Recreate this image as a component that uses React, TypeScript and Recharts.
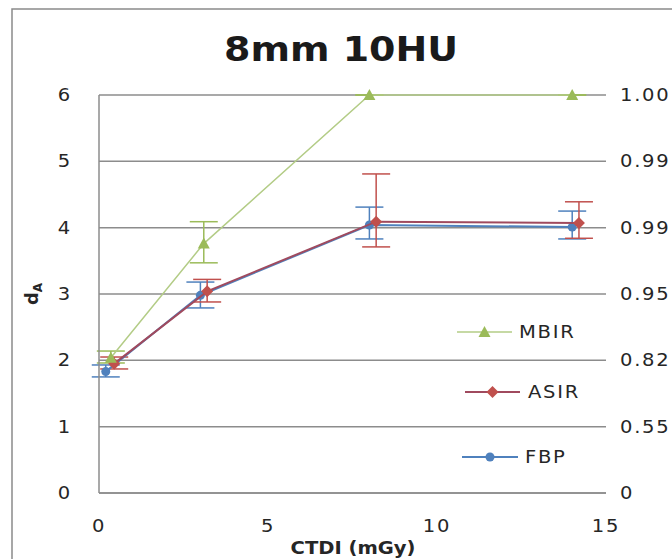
import React from 'react';
import {
  ComposedChart,
  Scatter,
  ErrorBar,
  XAxis,
  YAxis,
  CartesianGrid,
} from 'recharts';

// CTDI dose (mGy), d_A value and error bar extents for each reconstruction
const fbpX = [0.2, 3.0, 8.0, 14.0];
const fbpY = [1.83, 2.98, 4.04, 4.01];
const fbpErrLow = [0.08, 0.19, 0.21, 0.18];
const fbpErrHigh = [0.1, 0.2, 0.27, 0.24];

const asirX = [0.45, 3.2, 8.2, 14.2];
const asirY = [1.95, 3.04, 4.09, 4.07];
const asirErrLow = [0.08, 0.16, 0.38, 0.23];
const asirErrHigh = [0.1, 0.18, 0.72, 0.32];

const mbirX = [0.35, 3.1, 8.0, 14.0];
const mbirY = [2.04, 3.76, 6.0, 6.0];
const mbirErrLow = [0.08, 0.29, 0, 0];
const mbirErrHigh = [0.1, 0.33, 0, 0];

const xTicks = [0, 5, 10, 15];
const yTicks = [0, 1, 2, 3, 4, 5, 6];
const rightTickLabels = ['0', '0.55', '0.82', '0.95', '0.99', '0.99', '1.00'];

const title = '8mm 10HU';
const xLabel = 'CTDI (mGy)';

const FONT = '"DejaVu Sans", sans-serif';
const STRETCH = 1.15;
const GRID = '#8C8C8C';

type Kind = 'circle' | 'diamond' | 'triangle';

const build = (xs: number[], ys: number[], lo: number[], hi: number[]) =>
  xs.map((x, i) => ({ x, y: ys[i], err: [lo[i], hi[i]] }));

// both y axes share the 0..6 domain, so MBIR can sit on the right one
const series = [
  { name: 'FBP', axis: 'left', color: '#4F81BD', line: '#4F81BD', kind: 'circle' as Kind, data: build(fbpX, fbpY, fbpErrLow, fbpErrHigh) },
  { name: 'ASIR', axis: 'left', color: '#C0504D', line: '#A04A5E', kind: 'diamond' as Kind, data: build(asirX, asirY, asirErrLow, asirErrHigh) },
  { name: 'MBIR', axis: 'right', color: '#9BBB59', line: '#B3CC86', kind: 'triangle' as Kind, data: build(mbirX, mbirY, mbirErrLow, mbirErrHigh) },
];

function Marker({ kind, cx, cy, color }: { kind: Kind; cx: number; cy: number; color: string }) {
  if (kind === 'circle') return <circle cx={cx} cy={cy} r={4.5} fill={color} />;
  if (kind === 'diamond')
    return <polygon points={`${cx},${cy - 6} ${cx + 6},${cy} ${cx},${cy + 6} ${cx - 6},${cy}`} fill={color} />;
  return <polygon points={`${cx},${cy - 6} ${cx + 6},${cy + 5} ${cx - 6},${cy + 5}`} fill={color} />;
}

// tick text, slightly widened like the original typeface
function makeTick(anchor: 'start' | 'middle' | 'end', dy: number, fmt?: (v: number) => string) {
  return (props: any) => {
    const { x, y, payload } = props;
    const label = fmt ? fmt(payload.value) : String(payload.value);
    return (
      <g transform={`translate(${x},${y})`}>
        <text
          transform={`scale(${STRETCH},1)`}
          textAnchor={anchor}
          dy={dy}
          fontFamily={FONT}
          fontSize={17}
          letterSpacing={1.5}
          fill="#262626"
        >
          {label}
        </text>
      </g>
    );
  };
}

const legendRows = [
  { name: 'MBIR', y: 332, x1: 457, x2: 512, tx: 519 },
  { name: 'ASIR', y: 392, x1: 465, x2: 520, tx: 528 },
  { name: 'FBP', y: 457, x1: 462, x2: 518, tx: 525 },
];

export default function App() {
  return (
    <div style={{ position: 'absolute', left: 0, top: 0, width: 672, height: 559, background: '#fff' }}>
      <ComposedChart width={672} height={559} margin={{ top: 95, right: 0, bottom: 0, left: 0 }}>
        <CartesianGrid vertical={false} stroke={GRID} strokeWidth={1.5} yAxisId="left" />
        <XAxis
          dataKey="x"
          type="number"
          domain={[0, 15]}
          ticks={xTicks}
          height={66}
          tickLine={false}
          tickSize={0}
          tickMargin={0}
          axisLine={{ stroke: GRID, strokeWidth: 1.5 }}
          tick={makeTick('middle', 39)}
          allowDataOverflow
        />
        <YAxis
          yAxisId="left"
          dataKey="y"
          type="number"
          domain={[0, 6]}
          ticks={yTicks}
          width={99}
          tickLine={false}
          tickSize={0}
          tickMargin={27}
          axisLine={{ stroke: GRID, strokeWidth: 1.5 }}
          tick={makeTick('end', 6)}
        />
        <YAxis
          yAxisId="right"
          dataKey="y"
          orientation="right"
          type="number"
          domain={[0, 6]}
          ticks={yTicks}
          width={66}
          tickLine={false}
          tickSize={0}
          tickMargin={14}
          axisLine={false}
          tick={makeTick('start', 6, (v) => rightTickLabels[v])}
        />
        {series.map((s) => (
          <Scatter
            key={s.name}
            name={s.name}
            yAxisId={s.axis}
            data={s.data}
            line={{ stroke: s.line, strokeWidth: s.kind === 'triangle' ? 1.5 : 2 }}
            isAnimationActive={false}
            shape={(p: any) => <Marker kind={s.kind} cx={p.cx} cy={p.cy} color={s.color} />}
          >
            <ErrorBar dataKey="err" direction="y" width={14} stroke={s.color} strokeWidth={1.5} />
          </Scatter>
        ))}
      </ComposedChart>

      <svg width={672} height={559} style={{ position: 'absolute', left: 0, top: 0, pointerEvents: 'none' }}>
        <path d="M12,559 L12,9 L672,9" fill="none" stroke="#8A8A8A" strokeWidth={1.5} />
        <g transform="translate(341,61)">
          <text transform={`scale(${STRETCH},1)`} textAnchor="middle" fontFamily={FONT} fontWeight="bold" fontSize={33} fill="#1a1a1a">
            {title}
          </text>
        </g>
        <g transform="translate(353,554)">
          <text transform={`scale(${STRETCH},1)`} textAnchor="middle" fontFamily={FONT} fontWeight="bold" fontSize={17} fill="#262626">
            {xLabel}
          </text>
        </g>
        <g transform="translate(38,294) rotate(-90)">
          <text textAnchor="middle" fontFamily={FONT} fontWeight="bold" fontSize={18} fill="#262626">
            d<tspan fontSize={12} dy={4}>A</tspan>
          </text>
        </g>
        {legendRows.map((r) => {
          const s = series.find((q) => q.name === r.name)!;
          return (
            <g key={r.name}>
              <line x1={r.x1} x2={r.x2} y1={r.y} y2={r.y} stroke={s.line} strokeWidth={s.kind === 'triangle' ? 1.5 : 2} />
              <Marker kind={s.kind} cx={(r.x1 + r.x2) / 2} cy={r.y} color={s.color} />
              <g transform={`translate(${r.tx},${r.y + 6})`}>
                <text transform={`scale(${STRETCH},1)`} fontFamily={FONT} fontSize={17} letterSpacing={1.5} fill="#262626">
                  {r.name}
                </text>
              </g>
            </g>
          );
        })}
      </svg>
    </div>
  );
}
